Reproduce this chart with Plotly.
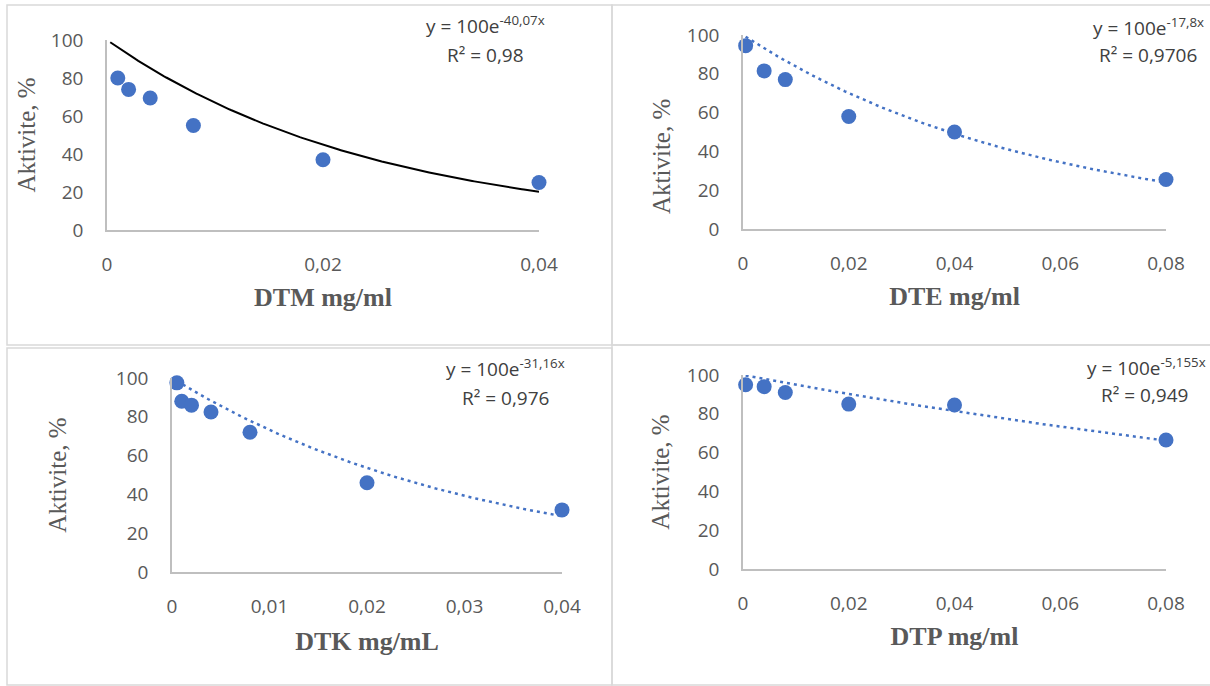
import numpy as np
import plotly.graph_objects as go

W, H = 1210, 686

# ---- data ----
x_dtm = [0.001, 0.002, 0.004, 0.008, 0.02, 0.04]
y_dtm = [80, 74, 69.5, 55, 37, 25]
x_dte = [0.0005, 0.004, 0.008, 0.02, 0.04, 0.08]
y_dte = [94.5, 81.5, 77, 58, 50, 25.5]
x_dtk = [0.0005, 0.001, 0.002, 0.004, 0.008, 0.02, 0.04]
y_dtk = [97.5, 88, 86, 82.5, 72, 46, 32]
x_dtp = [0.0005, 0.004, 0.008, 0.02, 0.04, 0.08]
y_dtp = [95, 94, 91, 85, 84.5, 66.5]

# trendline coefficients y = 100 e^(k x)
k_vals = [-40.07, -17.8, -31.16, -5.155]
k_text = ["-40,07x", "-17,8x", "-31,16x", "-5,155x"]
r2_text = ["0,98", "0,9706", "0,976", "0,949"]
x_titles = ["DTM mg/ml", "DTE mg/ml", "DTK mg/mL", "DTP mg/ml"]
y_title = "Aktivite, %"

ticks_004 = [0, 0.02, 0.04]
ticks_004_txt = ["0", "0,02", "0,04"]
ticks_008 = [0, 0.02, 0.04, 0.06, 0.08]
ticks_008_txt = ["0", "0,02", "0,04", "0,06", "0,08"]
ticks_004b = [0, 0.01, 0.02, 0.03, 0.04]
ticks_004b_txt = ["0", "0,01", "0,02", "0,03", "0,04"]
y_ticks = [0, 20, 40, 60, 80, 100]

panels = [
    dict(x=x_dtm, y=y_dtm, xr=[0, 0.04], tv=ticks_004, tt=ticks_004_txt,
         t0=0.0003, t1=0.04, dash="solid", lc="black",
         box=(107, 539, 40, 230), xsd=12, ysd=8, yt=None,
         eq=(485, 25), r2=(486, 55), border=(7, 5, 612, 345)),
    dict(x=x_dte, y=y_dte, xr=[0, 0.08], tv=ticks_008, tt=ticks_008_txt,
         t0=0.0005, t1=0.08, dash="3px,4px", lc="#4472C4",
         box=(743, 1166, 35, 229), xsd=12, ysd=8, yt=(662, 157),
         eq=(1148, 27), r2=(1148, 55), border=(612, 5, 1212, 345)),
    dict(x=x_dtk, y=y_dtk, xr=[0, 0.04], tv=ticks_004b, tt=ticks_004b_txt,
         t0=0.0005, t1=0.04, dash="3px,4px", lc="#4472C4",
         box=(172, 562, 378, 572), xsd=14, ysd=42, yt=None,
         eq=(506, 368), r2=(506, 398), border=(7, 348, 612, 685)),
    dict(x=x_dtp, y=y_dtp, xr=[0, 0.08], tv=ticks_008, tt=ticks_008_txt,
         t0=0.0005, t1=0.08, dash="3px,4px", lc="#4472C4",
         box=(743, 1166, 375, 569), xsd=12, ysd=10, yt=None,
         eq=(1146, 367), r2=(1144, 395), border=(612, 345, 1212, 685)),
]

def px(x):
    return x / W

def py(y):
    return 1 - y / H

fig = go.Figure()
layout = dict(width=W, height=H, margin=dict(l=0, r=0, t=0, b=0, pad=0, autoexpand=False),
              paper_bgcolor="white", plot_bgcolor="white", showlegend=False,
              template="none")
annotations = []
shapes = []
tick_font = dict(family="Open Sans", size=19, color="#595959")
xtitle_font = dict(family="Liberation Serif", size=26, color="#595959")
ytitle_font = dict(family="Liberation Serif", size=25, color="#595959")

for i, p in enumerate(panels):
    n = "" if i == 0 else str(i + 1)
    xa, ya = "x" + n, "y" + n
    x0, x1, y0, y1 = p["box"]
    layout["xaxis" + n] = dict(
        domain=[px(x0), px(x1)], range=p["xr"], anchor=ya, automargin=False,
        tickvals=p["tv"], ticktext=p["tt"], showgrid=False, zeroline=False,
        showline=True, linecolor="#bfbfbf", linewidth=1.5, ticks="",
        ticklabelstandoff=16, tickfont=tick_font, fixedrange=True,
        title=dict(text="<b>" + x_titles[i] + "</b>", font=xtitle_font, standoff=p["xsd"]))
    yax = dict(
        domain=[py(y1), py(y0)], range=[0, 100], anchor=xa, automargin=False,
        tickvals=y_ticks, showgrid=False, zeroline=False,
        showline=True, linecolor="#bfbfbf", linewidth=1.5, ticks="",
        ticklabelstandoff=18, tickfont=tick_font, fixedrange=True)
    if p["yt"] is None:
        yax["title"] = dict(text=y_title, font=ytitle_font, standoff=p["ysd"])
    else:
        annotations.append(dict(x=px(p["yt"][0]), y=py(p["yt"][1]), xref="paper", yref="paper",
                                text=y_title, showarrow=False, textangle=-90,
                                font=ytitle_font, xanchor="center", yanchor="middle"))
    layout["yaxis" + n] = yax

    k = k_vals[i]
    xt = np.linspace(p["t0"], p["t1"], 200)
    fig.add_trace(go.Scatter(x=xt, y=100 * np.exp(k * xt), mode="lines",
                             line=dict(color=p["lc"], width=2.5 if p["dash"] != "solid" else 2,
                                       dash=p["dash"]),
                             xaxis=xa, yaxis=ya, hoverinfo="skip"))
    fig.add_trace(go.Scatter(x=p["x"], y=p["y"], mode="markers",
                             marker=dict(color="#4472C4", size=15, line=dict(width=0)),
                             xaxis=xa, yaxis=ya, cliponaxis=False))

    annotations.append(dict(x=px(p["eq"][0]), y=py(p["eq"][1]), xref="paper", yref="paper",
                            text="y = 100e<sup>" + k_text[i] + "</sup>", showarrow=False,
                            font=dict(family="Open Sans", size=19, color="#404040"),
                            xanchor="center", yanchor="middle"))
    annotations.append(dict(x=px(p["r2"][0]), y=py(p["r2"][1]), xref="paper", yref="paper",
                            text="R² = " + r2_text[i], showarrow=False,
                            font=dict(family="Open Sans", size=19, color="#404040"),
                            xanchor="center", yanchor="middle"))
    bx0, by0, bx1, by1 = p["border"]
    shapes.append(dict(type="rect", xref="paper", yref="paper",
                       x0=px(bx0), x1=px(bx1), y0=py(by1), y1=py(by0),
                       line=dict(color="#d9d9d9", width=1.5), fillcolor="rgba(0,0,0,0)",
                       layer="below"))

layout["annotations"] = annotations
layout["shapes"] = shapes
fig.update_layout(**layout)

post = "document.body.style.margin='0';document.body.style.overflow='hidden';"
fig.write_html("out.html", config={"displayModeBar": False}, post_script=post)
